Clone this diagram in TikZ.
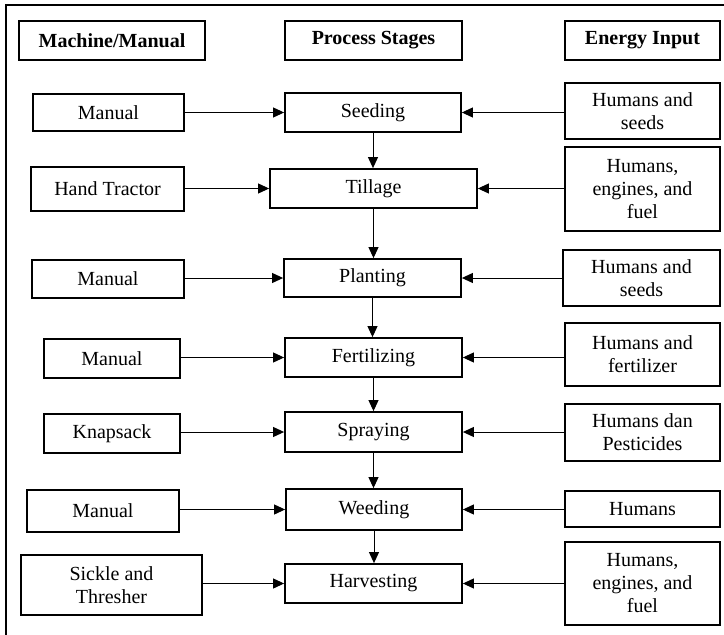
\documentclass[tikz,border=0pt]{standalone}
\usepackage{fontspec}
\setmainfont{Liberation Serif}
\usetikzlibrary{arrows.meta}
\tikzset{
  box/.style={draw, line width=1.8pt, align=center, inner sep=1pt,
    font=\fontsize{20}{23}\selectfont},
  headbox/.style={box, font=\fontsize{20}{23}\selectfont\bfseries},
  flow/.style={line width=1pt, -{Triangle[length=11pt,width=10pt]}},
  frame/.style={line width=1.6pt}
}
\begin{document}
\begin{tikzpicture}[x=1pt,y=-1pt]
\useasboundingbox (0,0) rectangle (724,635);
\clip (0,0) rectangle (724,635);
\draw[frame] (6,645) -- (6,5) -- (735,5);
% headers
\node[headbox, minimum width=186pt, minimum height=39pt] (h1) at (112,40.5) {Machine/Manual};
\node[headbox, minimum width=177pt, minimum height=39pt] (h2) at (373.5,40.5) {Process Stages};
\node[headbox, minimum width=155pt, minimum height=39pt] (h3) at (642.5,40.5) {Energy Input};
% row 1
\node[box, minimum width=151pt, minimum height=37pt] (l1) at (108.5,112.5) {Manual};
\node[box, minimum width=176pt, minimum height=39pt] (p1) at (373,112.5) {Seeding};
\node[box, minimum width=155pt, minimum height=56pt] (r1) at (642.5,111) {Humans and\\seeds};
% row 2
\node[box, minimum width=153pt, minimum height=44pt] (l2) at (107.5,189) {Hand Tractor};
\node[box, minimum width=207pt, minimum height=39pt] (p2) at (373.5,188.5) {Tillage};
\node[box, minimum width=155pt, minimum height=84pt] (r2) at (642.5,189) {Humans,\\engines, and\\fuel};
% row 3
\node[box, minimum width=152pt, minimum height=38pt] (l3) at (108,279) {Manual};
\node[box, minimum width=177pt, minimum height=38pt] (p3) at (372.5,278) {Planting};
\node[box, minimum width=157pt, minimum height=56pt] (r3) at (641.5,278) {Humans and\\seeds};
% row 4
\node[box, minimum width=136pt, minimum height=39pt] (l4) at (112,358.5) {Manual};
\node[box, minimum width=177pt, minimum height=39pt] (p4) at (373.5,357.5) {Fertilizing};
\node[box, minimum width=155pt, minimum height=63pt] (r4) at (642.5,354.5) {Humans and\\fertilizer};
% row 5
\node[box, minimum width=136pt, minimum height=39pt] (l5) at (112,433.5) {Knapsack};
\node[box, minimum width=177pt, minimum height=40pt] (p5) at (373.5,432) {Spraying};
\node[box, minimum width=155pt, minimum height=57pt] (r5) at (642.5,432.5) {Humans dan\\Pesticides};
% row 6
\node[box, minimum width=152pt, minimum height=42pt] (l6) at (103,511) {Manual};
\node[box, minimum width=176pt, minimum height=41pt] (p6) at (374,509.5) {Weeding};
\node[box, minimum width=155pt, minimum height=36pt] (r6) at (642.5,509) {Humans};
% row 7
\node[box, minimum width=181pt, minimum height=60pt] (l7) at (111.5,585) {Sickle and\\Thresher};
\node[box, minimum width=177pt, minimum height=39pt] (p7) at (373.5,583.5) {Harvesting};
\node[box, minimum width=155pt, minimum height=83pt] (r7) at (642.5,583.5) {Humans,\\engines, and\\fuel};
% horizontal connectors
\foreach \i in {1,...,7}{
  \draw[flow] (l\i.east |- p\i.west) -- (p\i.west);
  \draw[flow] (r\i.west |- p\i.east) -- (p\i.east);
}
% vertical connectors
\foreach \i/\j in {1/2,2/3,3/4,4/5,5/6,6/7}{
  \draw[flow] (p\i.south) -- (p\i.south |- p\j.north);
}
\end{tikzpicture}
\end{document}
